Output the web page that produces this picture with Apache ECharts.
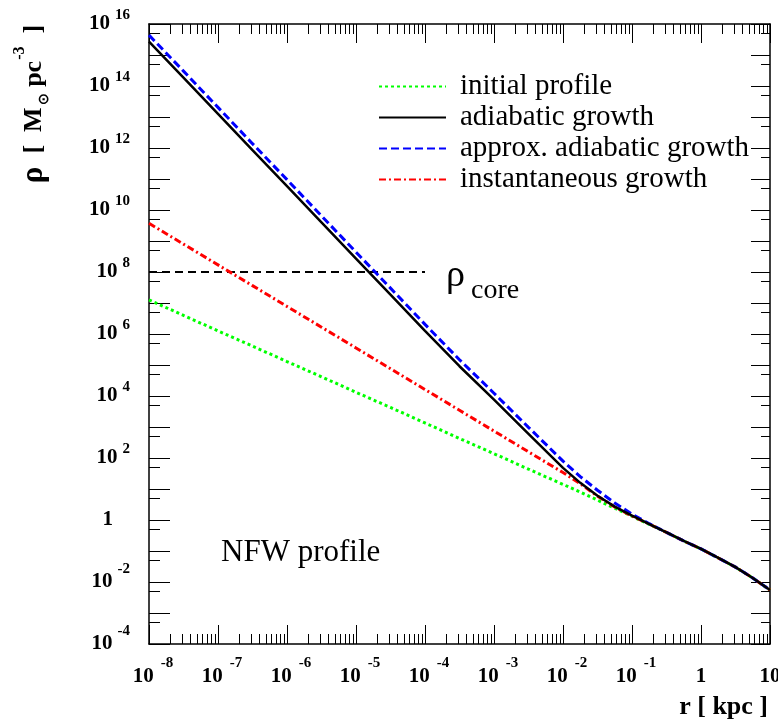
<!DOCTYPE html>
<html><head><meta charset="utf-8">
<script src="https://cdn.jsdelivr.net/npm/echarts@6/dist/echarts.min.js"></script>
<style>html,body{margin:0;padding:0;background:#fff}#c{width:778px;height:727px}</style>
</head><body><div id="c"></div>
<script>
// ---- data (r in kpc, rho in M_sun pc^-3) ----
const radius = [1e-8, 3.16e-8, 1e-7, 3.16e-7, 1e-6, 3.16e-6, 1e-5, 3.16e-5, 1e-4, 3.16e-4, 1e-3, 3.16e-3,
  0.01, 0.0178, 0.0316, 0.0562, 0.1, 0.178, 0.316, 0.562, 1, 1.78, 3.16, 5.62, 10];
const rhoInitial = [1.26e7, 3.98e6, 1.26e6, 4.07e5, 1.29e5, 4.17e4, 1.32e4, 4270, 1350, 427, 138, 43.7,
  14.1, 7.94, 4.37, 2.40, 1.32, 0.724, 0.398, 0.211, 0.117, 0.0596, 0.0302, 0.0135, 0.0055];
const rhoAdiabatic = [2.69e15, 1.86e14, 1.26e13, 8.51e11, 5.89e10, 3.98e9, 2.69e8, 1.86e7, 1.26e6, 9.12e4, 7590, 603,
  47.9, 15.8, 6.03, 2.69, 1.38, 0.741, 0.398, 0.211, 0.117, 0.0596, 0.0302, 0.0135, 0.0055];
const rhoApproxAdiabatic = [4.37e15, 3.02e14, 2.04e13, 1.38e12, 9.55e10, 6.46e9, 4.37e8, 3.02e7, 2.04e6, 1.48e5, 1.23e4, 977,
  79.4, 25.1, 9.12, 3.55, 1.55, 0.759, 0.398, 0.211, 0.117, 0.0596, 0.0302, 0.0135, 0.0055];
const rhoInstantaneous = [3.72e9, 7.94e8, 1.70e8, 3.63e7, 7.76e6, 1.66e6, 3.55e5, 7.59e4, 1.62e4, 3470, 741, 158,
  33.9, 14.8, 5.89, 2.63, 1.35, 0.741, 0.398, 0.211, 0.117, 0.0596, 0.0302, 0.0135, 0.0055];
const coreRadius = [1e-8, 1e-4];
const coreDensity = [1e8, 1e8];
const seriesNames = ['initial profile', 'adiabatic growth', 'approx. adiabatic growth', 'instantaneous growth'];
// tick exponents (powers of ten)
const xTickExponents = [-8, -7, -6, -5, -4, -3, -2, -1, 0, 1];
const yTickExponents = [-4, -3, -2, -1, 0, 1, 2, 3, 4, 5, 6, 7, 8, 9, 10, 11, 12, 13, 14, 15, 16];
const yLabelExponents = [-4, -2, 0, 2, 4, 6, 8, 10, 12, 14, 16];

// tick positions (in exponent space of the decoration axes)
const xMinorTicks = [];
for (let n = -8; n < 1; n++) for (let k = 2; k <= 9; k++) xMinorTicks.push(n + Math.log10(k));
const yHalfTicks = [];
for (let n = -3; n <= 16; n++) yHalfTicks.push(n - Math.log10(2));

const SERIF = '"Liberation Serif", "Times New Roman", serif';
const pts = (xs, ys) => xs.map((x, i) => [x, ys[i]]);

function xLabel(v) {
  const e = Math.round(v);
  if (e === 0) return '{one|1}';
  if (e === 1) return '{one|10}';
  return '{b|10}{sn|' + e + '}';
}
function yLabel(v) {
  const e = Math.round(v);
  if (e === 0) return '{one|1}';
  return '{b|10}{' + (e < 0 ? 'sn' : 'sp') + '|' + e + '}';
}
const baseTok = { fontFamily: SERIF, fontWeight: 'bold', fontSize: 21, color: '#000', lineHeight: 41 };
const supTok = { fontFamily: SERIF, fontWeight: 'bold', fontSize: 15, color: '#000' };

const tickLine = { color: '#000', width: 1 };
const frameLine = { show: true, onZero: false, lineStyle: { color: '#000', width: 1.5 } };

const xAxes = [
  { type: 'log', logBase: 10, min: 1e-8, max: 10, show: false, gridIndex: 0 },
  { type: 'value', min: -8, max: 1, position: 'bottom', axisLine: frameLine, splitLine: { show: false },
    axisTick: { inside: true, length: 19, lineStyle: tickLine, customValues: xTickExponents },
    axisLabel: { customValues: xTickExponents, margin: 12, formatter: xLabel, showMinLabel: true, showMaxLabel: true,
      rich: { one: Object.assign({}, baseTok), b: Object.assign({}, baseTok, { padding: [0, 0, 0, 8] }),
              sn: Object.assign({}, supTok, { padding: [0, 0, 26, 7] }) } } },
  { type: 'value', min: -8, max: 1, position: 'bottom', axisLine: { show: false, onZero: false }, splitLine: { show: false },
    axisLabel: { show: false }, axisTick: { inside: true, length: 10, lineStyle: tickLine, customValues: xMinorTicks } },
  { type: 'value', min: -8, max: 1, position: 'top', axisLine: frameLine, splitLine: { show: false }, axisLabel: { show: false },
    axisTick: { inside: true, length: 19, lineStyle: tickLine, customValues: xTickExponents } },
  { type: 'value', min: -8, max: 1, position: 'top', axisLine: { show: false, onZero: false }, splitLine: { show: false },
    axisLabel: { show: false }, axisTick: { inside: true, length: 10, lineStyle: tickLine, customValues: xMinorTicks } }
];
const yAxes = [
  { type: 'log', logBase: 10, min: 1e-4, max: 1e16, show: false, gridIndex: 0 },
  { type: 'value', min: -4, max: 16, position: 'left', axisLine: frameLine, splitLine: { show: false },
    axisTick: { inside: true, length: 21, lineStyle: tickLine, customValues: yTickExponents },
    axisLabel: { customValues: yLabelExponents, margin: 19, formatter: yLabel, showMinLabel: true, showMaxLabel: true,
      rich: { one: Object.assign({}, baseTok, { padding: [0, 17, 0, 0] }), b: Object.assign({}, baseTok),
              sp: Object.assign({}, supTok, { padding: [0, 0, 18, 5] }),
              sn: Object.assign({}, supTok, { padding: [0, 0, 26, 5] }) } } },
  { type: 'value', min: -4, max: 16, position: 'left', axisLine: { show: false, onZero: false }, splitLine: { show: false },
    axisLabel: { show: false }, axisTick: { inside: true, length: 11, lineStyle: tickLine, customValues: yHalfTicks } },
  { type: 'value', min: -4, max: 16, position: 'right', axisLine: frameLine, splitLine: { show: false }, axisLabel: { show: false },
    axisTick: { inside: true, length: 19, lineStyle: tickLine, customValues: yTickExponents } },
  { type: 'value', min: -4, max: 16, position: 'right', axisLine: { show: false, onZero: false }, splitLine: { show: false },
    axisLabel: { show: false }, axisTick: { inside: true, length: 9, lineStyle: tickLine, customValues: yHalfTicks } }
];

function lineSeries(name, ys, color, width, type, z) {
  return { name: name, type: 'line', xAxisIndex: 0, yAxisIndex: 0, data: pts(radius, ys), symbol: 'none', showSymbol: false,
    lineStyle: { color: color, width: width, type: type }, itemStyle: { color: color }, z: z, silent: true };
}

const chart = echarts.init(document.getElementById('c'), null, { renderer: 'canvas' });
chart.setOption({
  animation: false,
  backgroundColor: '#ffffff',
  grid: { left: 149, top: 24, width: 621, height: 620, containLabel: false, outerBoundsMode: 'none' },
  xAxis: xAxes,
  yAxis: yAxes,
  legend: {
    data: seriesNames, orient: 'vertical', left: 378, top: 71, padding: 0, itemGap: 0,
    itemWidth: 67, itemHeight: 14, selectedMode: false, itemStyle: { opacity: 0 },
    textStyle: { fontFamily: SERIF, fontSize: 29, color: '#000', lineHeight: 31, padding: [0, 0, 0, 9] }
  },
  series: [
    lineSeries(seriesNames[0], rhoInitial, '#00ff00', 3, [3, 3], 2),
    lineSeries(seriesNames[3], rhoInstantaneous, '#ff0000', 3, [7, 3, 2, 3], 3),
    lineSeries(seriesNames[2], rhoApproxAdiabatic, '#0000ff', 3, [8, 4], 4),
    lineSeries(seriesNames[1], rhoAdiabatic, '#000000', 2.5, 'solid', 5),
    { name: 'rho core', type: 'line', xAxisIndex: 0, yAxisIndex: 0, data: pts(coreRadius, coreDensity), symbol: 'none',
      lineStyle: { color: '#000', width: 2, type: [8, 5] }, z: 1, silent: true }
  ],
  graphic: [
    { type: 'text', x: 34, y: 104, rotation: Math.PI / 2, silent: true,
      style: { text: '{r|ρ}{m|  [  M}{sub|⊙}{m| pc}{sup|-3}{m|  ]}', align: 'center', verticalAlign: 'middle',
        rich: { r: { fontFamily: SERIF, fontWeight: 'bold', fontSize: 31, fill: '#000' },
                m: { fontFamily: SERIF, fontWeight: 'bold', fontSize: 26, fill: '#000' },
                sub: { fontFamily: SERIF, fontWeight: 'bold', fontSize: 14, fill: '#000', padding: [20, 0, 0, 2] },
                sup: { fontFamily: SERIF, fontWeight: 'bold', fontSize: 16, fill: '#000', padding: [0, 0, 28, 1] } } } },
    { type: 'text', x: 768, y: 707, silent: true,
      style: { text: 'r [ kpc ]', align: 'right', verticalAlign: 'middle', fontFamily: SERIF, fontWeight: 'bold', fontSize: 26, fill: '#000' } },
    { type: 'text', x: 446, y: 276, silent: true,
      style: { text: '{r|ρ}{c|core}', align: 'left', verticalAlign: 'middle',
        rich: { r: { fontFamily: SERIF, fontSize: 38, fill: '#000' },
                c: { fontFamily: SERIF, fontSize: 28, fill: '#000', padding: [30, 0, 0, 6] } } } },
    { type: 'text', x: 221, y: 553, silent: true,
      style: { text: 'NFW profile', align: 'left', verticalAlign: 'middle', fontFamily: SERIF, fontSize: 31, fill: '#000' } }
  ]
});
</script></body></html>
